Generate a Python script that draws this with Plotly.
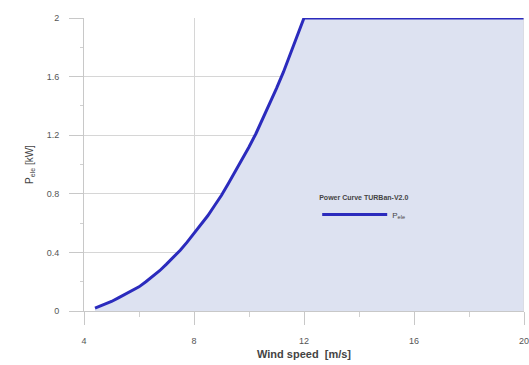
import plotly.graph_objects as go

wind_speed = [4.4, 4.75, 5.0, 5.25, 5.5, 5.75, 6.0, 6.25, 6.5, 6.75, 7.0, 7.25, 7.5, 7.75,
              8.0, 8.25, 8.5, 8.75, 9.0, 9.25, 9.5, 9.75, 10.0, 10.25, 10.5, 10.75,
              11.0, 11.25, 11.5, 11.75, 12.0, 20.0]
power_kw = [0.02, 0.045, 0.065, 0.09, 0.115, 0.14, 0.165, 0.2, 0.235, 0.275, 0.32, 0.365, 0.415, 0.47,
            0.53, 0.59, 0.65, 0.72, 0.79, 0.87, 0.95, 1.03, 1.12, 1.21, 1.31, 1.41,
            1.52, 1.63, 1.75, 1.87, 2.0, 2.0]

x_tick_start = 4
x_tick_step = 4
y_tick_step = 0.4

line_color = "#2b2bbd"
fill_color = "#dde2f1"
grid_color = "#d6d6d6"
font_family = "Liberation Sans, Arial, sans-serif"

fig = go.Figure()
fig.add_trace(go.Scatter(
    x=wind_speed, y=power_kw, mode="lines", fill="tozeroy",
    fillcolor=fill_color, line=dict(width=0, color=fill_color),
    showlegend=False, hoverinfo="skip",
))
fig.add_trace(go.Scatter(
    x=wind_speed, y=power_kw, mode="lines", name="P<sub>ele</sub>",
    line=dict(color=line_color, width=3),
    cliponaxis=False,
))

fig.update_layout(
    width=529, height=365,
    margin=dict(l=84, r=5, t=18, b=54),
    paper_bgcolor="white", plot_bgcolor="white",
    font=dict(family=font_family, color="#555555", size=9),
    legend=dict(
        title=dict(text="<b>Power Curve TURBan-V2.0</b>", font=dict(size=7, color="#444444"), side="top"),
        x=0.53, y=0.41, xanchor="left", yanchor="top",
        bgcolor="rgba(0,0,0,0)", itemwidth=65,
        font=dict(size=8, color="#444444"),
    ),
    xaxis=dict(
        range=[4, 20], tickmode="linear", tick0=x_tick_start, dtick=x_tick_step,
        showgrid=True, gridcolor=grid_color, gridwidth=1,
        showline=True, linecolor="#c8c8c8", linewidth=1,
        ticks="outside", ticklen=13, tickcolor="#c8c8c8", ticklabelstandoff=8,
        ticklabeloverflow="allow", automargin=False,
        minor=dict(dtick=2, ticks="outside", ticklen=5, tickcolor="#d0d0d0", showgrid=False),
        zeroline=False,
        title=dict(text="<b>Wind speed  [m/s]</b>", font=dict(size=11, color="#444444"), standoff=5),
    ),
    yaxis=dict(
        range=[0, 2], tickmode="linear", tick0=0, dtick=y_tick_step,
        showgrid=True, gridcolor=grid_color, gridwidth=1,
        showline=True, linecolor="#c8c8c8", linewidth=1,
        ticks="outside", ticklen=14, tickcolor="#c8c8c8", ticklabelstandoff=8,
        minor=dict(dtick=0.2, ticks="outside", ticklen=3, tickcolor="#d0d0d0", showgrid=False),
        zeroline=False,
        title=dict(text="P<sub>ele</sub> [kW]", font=dict(size=10, color="#444444"), standoff=11),
    ),
)
fig.add_shape(type="line", xref="x", yref="paper", x0=20, x1=20, y0=0, y1=1,
              line=dict(color="#d6d6d6", width=1), layer="above")

fig.write_html("out.html")
